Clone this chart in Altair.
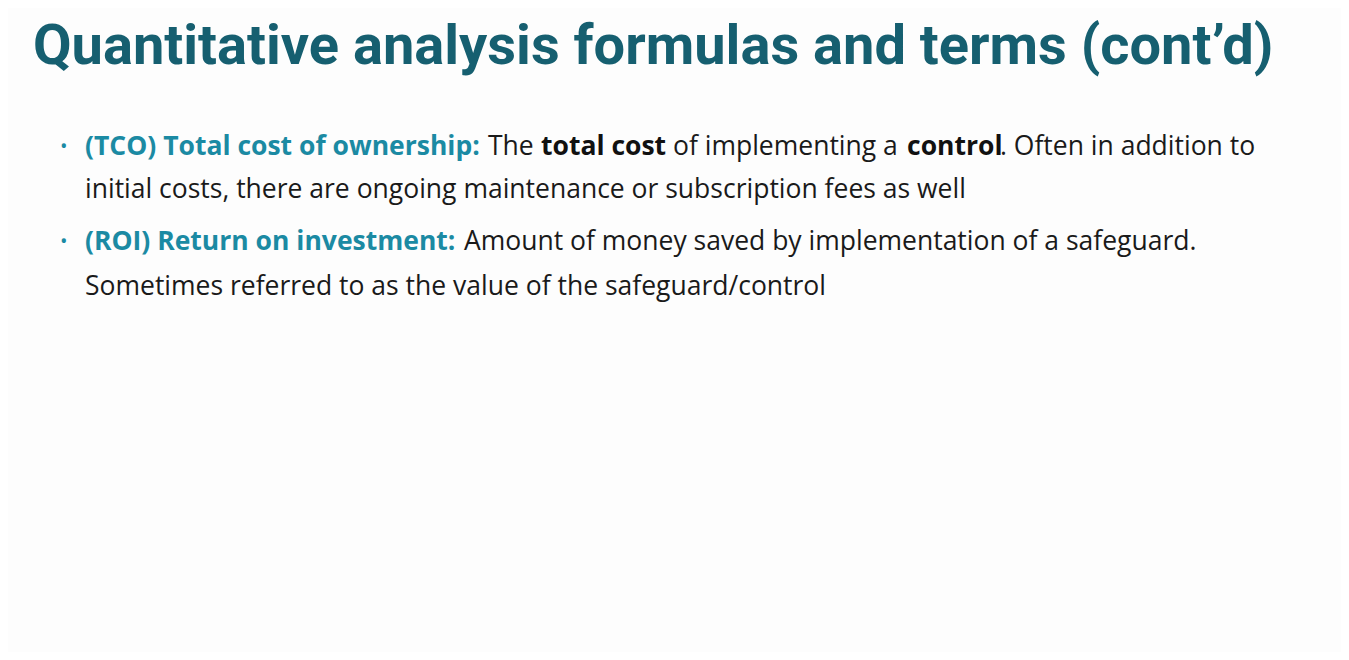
import pandas as pd
import altair as alt

# slide text, split into styled runs
title_text = ["Quantitative analysis formulas and terms (cont\u2019d)"]
runs = [
    "(TCO) Total cost of ownership:", "The", "total cost", "of implementing a", "control",
    ". Often in addition to",
    "initial costs, there are ongoing maintenance or subscription fees as well",
    "(ROI) Return on investment:", "Amount of money saved by implementation of a safeguard.",
    "Sometimes referred to as the value of the safeguard/control",
]
run_style = ["term", "plain", "bold", "plain", "bold", "plain", "plain", "term", "plain", "plain"]
run_x = [85, 488, 541, 673, 907, 1000, 85, 85, 464, 85]
run_y = [147, 147, 147, 147, 147, 147, 190, 242, 242, 287]
bullet_x = [60, 60]
bullet_y = [147, 242]

runs_df = pd.DataFrame({"text": runs, "style": run_style, "x": run_x, "y": run_y})
bullets_df = pd.DataFrame({"text": ["\u2022", "\u2022"], "x": bullet_x, "y": bullet_y})
title_df = pd.DataFrame({"text": title_text, "x": [33], "y": [47]})

X = alt.X("x:Q", scale=alt.Scale(domain=[8, 1341]), axis=None)
Y = alt.Y("y:Q", scale=alt.Scale(domain=[652, 8]), axis=None)
colors = alt.Color("style:N", scale=alt.Scale(domain=["term", "plain", "bold"],
                   range=["#1b8aa3", "#1a1a1a", "#111111"]), legend=None)

base = alt.Chart(runs_df)
plain = base.transform_filter("datum.style == 'plain'").mark_text(
    align="left", baseline="middle", font="Open Sans", fontSize=26.5, fontWeight="normal"
).encode(x=X, y=Y, text="text:N", color=colors)
bold = base.transform_filter("datum.style != 'plain'").mark_text(
    align="left", baseline="middle", font="Open Sans", fontSize=26.5, fontWeight="bold"
).encode(x=X, y=Y, text="text:N", color=colors)
bullets = alt.Chart(bullets_df).mark_text(
    align="left", baseline="middle", font="Open Sans", fontSize=20, color="#1b8aa3"
).encode(x=X, y=Y, text="text:N")
title = alt.Chart(title_df).mark_text(
    align="left", baseline="middle", font="Roboto", fontSize=56, fontWeight="bold", color="#165f70"
).encode(x=X, y=Y, text="text:N")

chart = alt.layer(title, bullets, plain, bold).properties(
    width=1333, height=644, background="#fdfdfd", padding=0,
    autosize=alt.AutoSizeParams(type="none")
).configure_view(stroke=None)

chart.save("out.html", embed_options={"renderer": "svg", "actions": False})
